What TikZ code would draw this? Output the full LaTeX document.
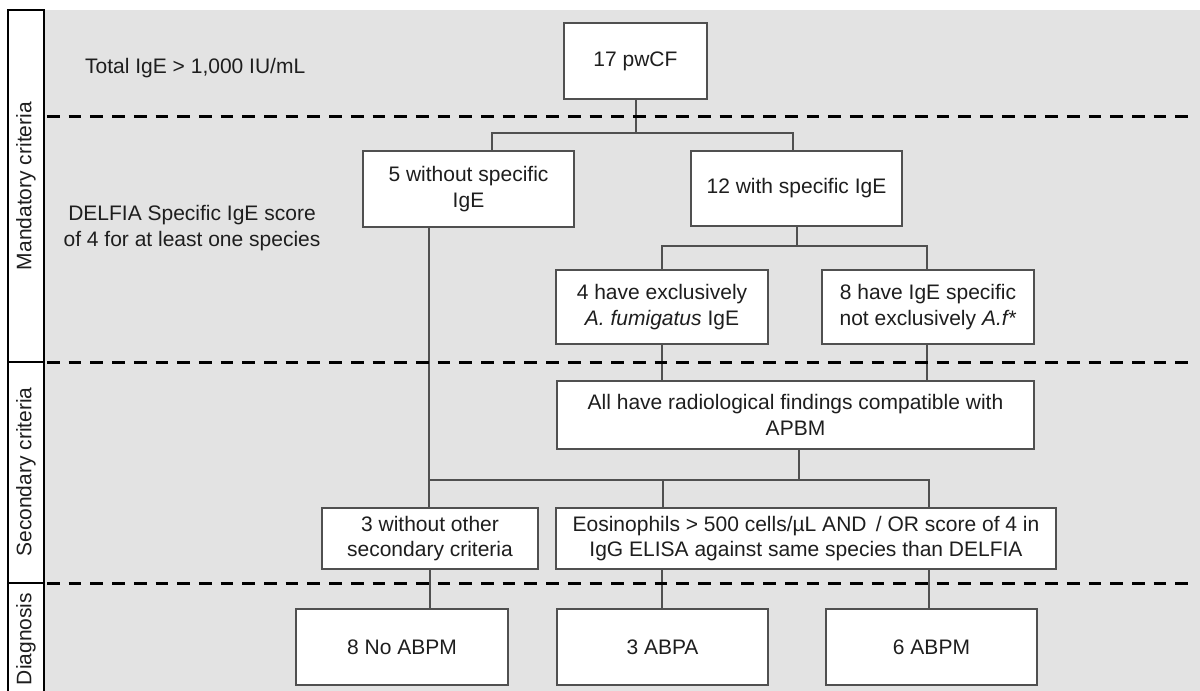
\documentclass[tikz,border=0pt]{standalone}
\usepackage{fontspec}
\setmainfont{Liberation Sans}
\definecolor{bg}{HTML}{E3E3E3}
\definecolor{boxgray}{HTML}{505050}
\definecolor{txt}{HTML}{1E1E1E}
\begin{document}
\begin{tikzpicture}[x=1pt,y=-1pt,
  box/.style={draw=boxgray,line width=1.3pt,fill=white,inner sep=0pt,align=center,
    font=\fontsize{21}{25.5}\selectfont,text=txt},
  conn/.style={draw=boxgray,line width=1.3pt},
  sepline/.style={black,line width=3pt,dash pattern=on 12.7pt off 9pt},
  lbl/.style={font=\fontsize{21}{25.5}\selectfont,text=txt,align=center,inner sep=0pt}]
\useasboundingbox (0,0) rectangle (1200,691);
% backgrounds
\fill[bg] (44,10) rectangle (1200,695);
\fill[white] (8,10) rectangle (44,695);
\draw[line width=2.5pt] (8,10) rectangle (44,700);
\draw[line width=2.5pt] (8,362) -- (44,362);
\draw[line width=2.5pt] (8,583) -- (44,583);
% section labels
\node[lbl,rotate=90] (lm) at (26,186) {Mandatory criteria};
\node[lbl,rotate=90] (ls) at (26,472) {Secondary criteria};
\node[lbl,rotate=90] (ld) at (26,639) {Diagnosis};
% separators
\coordinate (s1a) at (47,116); \coordinate (s1b) at (1192,116);
\coordinate (s2a) at (47,362); \coordinate (s2b) at (1192,362);
\coordinate (s3a) at (47,583); \coordinate (s3b) at (1192,583);
% side texts
\node[lbl,anchor=west] (tige) at (85,68) {Total IgE > 1,000 IU/mL};
\node[lbl] (delf) at (192,228) {DELFIA Specific IgE score\\of 4 for at least one species};
% boxes
\node[box,minimum width=143pt,minimum height=76pt] (top) at (635.5,61) {17 pwCF};
\node[box,minimum width=211pt,minimum height=76pt] (b5) at (468.5,189) {5 without specific\\IgE};
\node[box,minimum width=211pt,minimum height=75pt] (b12) at (796.5,188.5) {12 with specific IgE};
\node[box,minimum width=212pt,minimum height=74pt] (b4) at (662,307) {4 have exclusively\\\textit{A. fumigatus} IgE};
\node[box,minimum width=212pt,minimum height=74pt] (b8) at (928,307) {8 have IgE specific\\not exclusively \textit{A.f*}};
\node[box,minimum width=477pt,minimum height=68pt] (br) at (795.5,415) {All have radiological findings compatible with\\APBM};
\node[box,minimum width=216pt,minimum height=61pt] (b3) at (430,538.5) {3 without other\\secondary criteria};
\node[box,minimum width=500pt,minimum height=61pt] (be) at (806,538.5) {Eosinophils > 500 cells/µL AND \,/ OR score of 4 in\\IgG ELISA against same species than DELFIA};
\node[box,minimum width=212pt,minimum height=76pt] (dno) at (402,647) {8 No ABPM};
\node[box,minimum width=211pt,minimum height=76pt] (dpa) at (662.5,647) {3 ABPA};
\node[box,minimum width=211pt,minimum height=76pt] (dpm) at (931.5,647) {6 ABPM};
% junction coordinates
\coordinate (j1c) at (636,133); \coordinate (j1l) at (492,133); \coordinate (j1r) at (793,133);
\coordinate (j2c) at (797,246); \coordinate (j2l) at (662,246); \coordinate (j2r) at (927,246);
\coordinate (j3c) at (799,480); \coordinate (j3l) at (429,480); \coordinate (j3m) at (663,480); \coordinate (j3r) at (929,480);
\coordinate (x4) at (662,0); \coordinate (x8) at (927,0);
\coordinate (x3) at (430,0); \coordinate (xa) at (662,0); \coordinate (xm) at (929,0);
% connectors
\draw[conn] (top.south -| j1c) -- (j1c);
\draw[conn] (b5.north -| j1l) -- (j1l) -- (j1r) -- (b12.north -| j1r);
\draw[conn] (b12.south -| j2c) -- (j2c);
\draw[conn] (b4.north -| j2l) -- (j2l) -- (j2r) -- (b8.north -| j2r);
\draw[conn] (b4.south -| x4) -- (br.north -| x4);
\draw[conn] (b8.south -| x8) -- (br.north -| x8);
\draw[conn] (b5.south -| j3l) -- (b3.north -| j3l);
\draw[conn] (j3l) -- (j3r) -- (be.north -| j3r);
\draw[conn] (br.south -| j3c) -- (j3c);
\draw[conn] (j3m) -- (be.north -| j3m);
\draw[conn] (b3.south -| x3) -- (dno.north -| x3);
\draw[conn] (be.south -| xa) -- (dpa.north -| xa);
\draw[conn] (be.south -| xm) -- (dpm.north -| xm);
% dashed separators on top
\draw[sepline] (s1a) -- (s1b);
\draw[sepline] (s2a) -- (s2b);
\draw[sepline] (s3a) -- (s3b);
\end{tikzpicture}
\end{document}
